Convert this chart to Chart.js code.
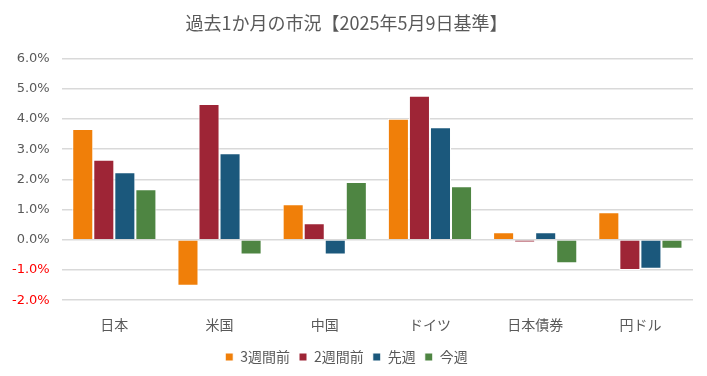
<!DOCTYPE html>
<html>
<head>
<meta charset="utf-8">
<script src="https://cdn.jsdelivr.net/npm/chart.js@4/dist/chart.umd.min.js"></script>
<style>
  body { margin: 0; background: #fff; }
  #wrap { width: 707px; height: 376px; }
</style>
</head>
<body>
<div id="wrap"><canvas id="chart" width="707" height="376"></canvas></div>
<script>
// categories and series (percent)
const categories = ['日本', '米国', '中国', 'ドイツ', '日本債券', '円ドル'];
const week3 = [3.67, -1.52, 1.18, 4.01, 0.25, 0.91];
const week2 = [2.65, 4.50, 0.55, 4.77, -0.09, -1.00];
const lastWeek = [2.24, 2.87, -0.49, 3.73, 0.25, -0.96];
const thisWeek = [1.67, -0.49, 1.91, 1.77, -0.78, -0.30];
const seriesNames = ['3週間前', '2週間前', '先週', '今週'];

const FONT = '"DejaVu Sans", "Noto Sans CJK JP", sans-serif';
const JFONT = '"Noto Sans CJK JP", "Noto Sans", sans-serif';
const colors = ['#F07F09', '#9E2536', '#1B587C', '#4E8542'];

const ctx = document.getElementById('chart').getContext('2d');
new Chart(ctx, {
  type: 'bar',
  data: {
    labels: categories,
    datasets: [week3, week2, lastWeek, thisWeek].map((d, i) => ({
      label: seriesNames[i],
      data: d,
      backgroundColor: colors[i],
      borderColor: '#ffffff',
      borderWidth: 1,
      categoryPercentage: 0.8,
      barPercentage: 1.0
    }))
  },
  options: {
    responsive: false,
    animation: false,
    layout: { padding: { left: 0, right: 14, top: 4, bottom: 2 } },
    plugins: {
      title: {
        display: true,
        text: '過去1か月の市況【2025年5月9日基準】',
        color: '#595959',
        font: { family: JFONT, size: 18, weight: 'normal' },
        padding: { top: 8, bottom: 25 }
      },
      legend: {
        position: 'bottom',
        labels: {
          color: '#595959',
          font: { family: JFONT, size: 14 },
          boxWidth: 8,
          boxHeight: 8,
          padding: 9
        }
      },
      tooltip: { enabled: false }
    },
    scales: {
      x: {
        grid: { display: false },
        border: { display: false },
        ticks: { color: '#595959', font: { family: JFONT, size: 14 }, padding: 8 }
      },
      y: {
        min: -2,
        max: 6,
        ticks: {
          stepSize: 1,
          color: (c) => c.tick.value < 0 ? '#FF0000' : '#595959',
          font: { family: FONT, size: 13 },
          padding: 12,
          callback: (v) => v.toFixed(1) + '%'
        },
        grid: { color: '#D9D9D9', lineWidth: 1.5, drawTicks: false },
        border: { display: false }
      }
    }
  }
});
</script>
</body>
</html>
